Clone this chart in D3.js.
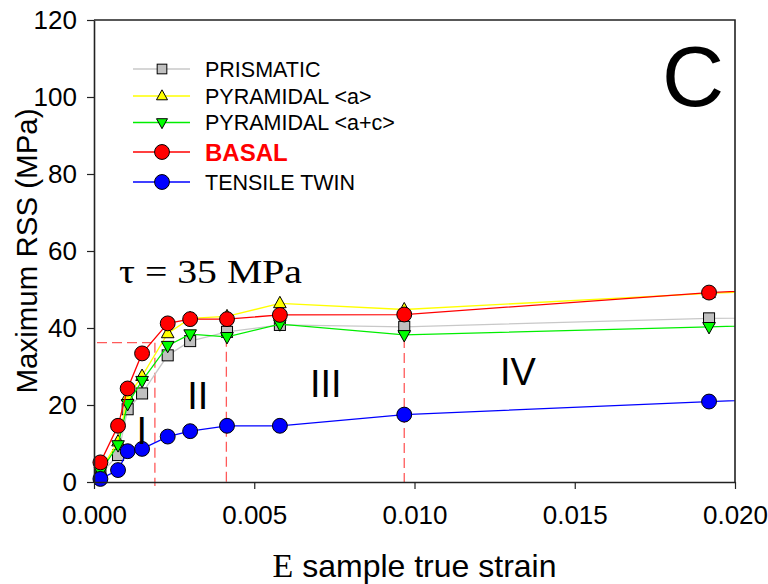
<!DOCTYPE html>
<html>
<head>
<meta charset="utf-8">
<script src="https://cdn.jsdelivr.net/npm/d3@7"></script>
<style>
  html, body { margin: 0; padding: 0; background: #fff; }
  svg { display: block; }
</style>
</head>
<body>
<svg id="chart" width="768" height="584"></svg>
<script>
// Strain values (the last one lies past the axis end; its segment is clipped)
const strain = [0.0002, 0.00075, 0.00105, 0.0015, 0.0023, 0.0030, 0.00415, 0.0058, 0.00968, 0.01919, 0.0250];

// Maximum resolved shear stress per slip / twin system (MPa)
const prismatic   = [2.0, 7.0, 18.9, 23.0, 32.9, 36.6, 39.0, 40.8, 40.3, 42.5, 43.0];
const pyramidalA  = [3.0, 10.5, 22.2, 27.5, 38.6, 42.5, 43.0, 46.4, 44.8, 49.0, 50.8];
const pyramidalAC = [2.7, 9.6, 20.3, 26.3, 35.4, 38.4, 37.7, 41.0, 38.2, 40.3, 41.5];
const basal       = [5.1, 14.6, 24.3, 33.4, 41.2, 42.3, 42.3, 43.4, 43.5, 49.2, 51.5];
const tensileTwin = [0.8, 3.1, 8.0, 8.6, 11.8, 13.2, 14.6, 14.6, 17.5, 20.9, 22.5];

const seriesNames = ["PRISMATIC", "PYRAMIDAL <a>", "PYRAMIDAL <a+c>", "BASAL", "TENSILE TWIN"];

// Axis ticks
const xTicks = [0, 0.005, 0.010, 0.015, 0.020];
const yTicks = [0, 20, 40, 60, 80, 100, 120];

// Stage boundaries and critical stress guide
const stageStrain = [0.0019, 0.00413, 0.00968];
const stageTop    = [36.2, 37.7, 37.4];
const tauLevel    = 36.2;
const stageLabels = ["I", "II", "III", "IV"];
const stageLabelStrain = [0.00149, 0.00324, 0.00723, 0.01323];
const stageLabelStress = [9.9, 19.0, 22.0, 25.2];

const svg = d3.select("#chart");
const plotL = 94, plotR = 735, plotT = 20, plotB = 482;
const x = d3.scaleLinear().domain([0, 0.02]).range([plotL, plotR]);
const y = d3.scaleLinear().domain([0, 120]).range([plotB, plotT]);

const styles = [
  { values: prismatic,   line: "#c8c8c8", fill: "#c0c0c0", shape: "square" },
  { values: pyramidalA,  line: "#ffff00", fill: "#ffff00", shape: "tri-up" },
  { values: pyramidalAC, line: "#00ee00", fill: "#00ff00", shape: "tri-down" },
  { values: basal,       line: "#ff0000", fill: "#ff0000", shape: "circle" },
  { values: tensileTwin, line: "#0000ff", fill: "#0000ff", shape: "circle" }
];

svg.append("defs").append("clipPath").attr("id", "plotClip")
  .append("rect").attr("x", plotL).attr("y", plotT - 10)
  .attr("width", plotR - plotL).attr("height", plotB - plotT + 10);

function drawMarker(g, shape, cx, cy, fill, size) {
  if (shape === "circle") {
    g.append("circle").attr("cx", cx).attr("cy", cy).attr("r", size * 0.62)
      .attr("fill", fill).attr("stroke", "#000").attr("stroke-width", 1);
  } else if (shape === "square") {
    const s = size * 0.92;
    g.append("rect").attr("x", cx - s / 2).attr("y", cy - s / 2).attr("width", s).attr("height", s)
      .attr("fill", fill).attr("stroke", "#000").attr("stroke-width", 1);
  } else {
    const h = size * 0.95, w = size * 1.05;
    const dir = shape === "tri-up" ? -1 : 1;
    const pts = [[cx, cy + dir * h * 0.62], [cx - w / 2, cy - dir * h * 0.38], [cx + w / 2, cy - dir * h * 0.38]];
    g.append("polygon").attr("points", pts.map(p => p.join(",")).join(" "))
      .attr("fill", fill).attr("stroke", "#000").attr("stroke-width", 1);
  }
}

// Stage guide lines (dashed red)
const guides = svg.append("g").attr("stroke", "#ff5a5a").attr("stroke-width", 1.3)
  .attr("stroke-dasharray", "10,5").attr("fill", "none");
guides.append("line").attr("x1", x(0) + 3).attr("x2", x(stageStrain[0]))
  .attr("y1", y(tauLevel)).attr("y2", y(tauLevel));
stageStrain.forEach((s, i) => {
  guides.append("line").attr("x1", x(s)).attr("x2", x(s))
    .attr("y1", y(stageTop[i])).attr("y2", y(0) + 4);
});

// Series: each line then its markers
const plot = svg.append("g");
const lineGen = d3.line().x(d => x(d[0])).y(d => y(d[1]));
styles.forEach(st => {
  const pts = strain.map((s, i) => [s, st.values[i]]);
  plot.append("path").attr("d", lineGen(pts)).attr("fill", "none")
    .attr("stroke", st.line).attr("stroke-width", 1.3).attr("clip-path", "url(#plotClip)");
  const mg = plot.append("g");
  pts.filter(p => p[0] <= 0.02).forEach(p => drawMarker(mg, st.shape, x(p[0]), y(p[1]), st.fill, 12));
});

// Axes
const xAxis = svg.append("g").attr("transform", `translate(0,${plotB})`)
  .call(d3.axisBottom(x).tickValues(xTicks).tickFormat(d3.format(".3f")).tickSize(7).tickSizeOuter(0).tickPadding(17));
const yAxis = svg.append("g").attr("transform", `translate(${plotL},0)`)
  .call(d3.axisLeft(y).tickValues(yTicks).tickSize(7).tickSizeOuter(0).tickPadding(10));
[xAxis, yAxis].forEach(a => {
  a.select(".domain").attr("stroke", "#222").attr("stroke-width", 1.6);
  a.selectAll(".tick line").attr("stroke", "#222").attr("stroke-width", 1.2);
  a.selectAll(".tick text").attr("font-family", "Liberation Sans, Arial, sans-serif")
    .attr("font-size", 26).attr("fill", "#000");
});
// Frame top and right
svg.append("path").attr("d", `M${plotL},${plotT}H${plotR}V${plotB}`)
  .attr("fill", "none").attr("stroke", "#222").attr("stroke-width", 1.6);

// Axis titles
svg.append("text").attr("transform", `translate(37,${(plotT + plotB) / 2}) rotate(-90)`)
  .attr("text-anchor", "middle").attr("font-family", "Liberation Sans, Arial, sans-serif")
  .attr("font-size", 29.5).text("Maximum RSS (MPa)");
const xt = svg.append("text").attr("x", (plotL + plotR) / 2).attr("y", 577)
  .attr("text-anchor", "middle").attr("font-size", 32);
xt.append("tspan").attr("font-family", "Liberation Serif, Times New Roman, serif").attr("font-size", 34).text("E");
xt.append("tspan").attr("font-family", "Liberation Sans, Arial, sans-serif").text(" sample true strain");

// Stage labels
stageLabels.forEach((t, i) => {
  svg.append("text").attr("x", x(stageLabelStrain[i])).attr("y", y(stageLabelStress[i]))
    .attr("text-anchor", "middle").attr("font-family", "Liberation Sans, Arial, sans-serif")
    .attr("font-size", 38).text(t);
});

// Critical stress annotation
svg.append("text").attr("x", 119).attr("y", 283)
  .attr("font-family", "Liberation Serif, Times New Roman, serif").attr("font-size", 34)
  .attr("textLength", 183).attr("lengthAdjust", "spacingAndGlyphs").text("τ = 35 MPa");

// Panel letter
svg.append("text").attr("x", 662).attr("y", 106)
  .attr("font-family", "Liberation Sans, Arial, sans-serif").attr("font-size", 86).text("C");

// Legend
const legendY = [69, 96, 122.5, 152, 182];
const legend = svg.append("g");
styles.forEach((st, i) => {
  const ly = legendY[i];
  legend.append("line").attr("x1", 133).attr("x2", 190).attr("y1", ly).attr("y2", ly)
    .attr("stroke", st.line).attr("stroke-width", 1.3);
  drawMarker(legend, st.shape, 162, ly, st.fill, st.shape === "circle" ? 12 : 10.5);
  const isBasal = i === 3;
  legend.append("text").attr("x", 205).attr("y", ly).attr("dy", "0.36em")
    .attr("font-family", "Liberation Sans, Arial, sans-serif")
    .attr("font-size", isBasal ? 24 : 21.5)
    .attr("font-weight", isBasal ? "bold" : "normal")
    .attr("fill", isBasal ? "#ff0000" : "#000").text(seriesNames[i]);
});
</script>
</body>
</html>
